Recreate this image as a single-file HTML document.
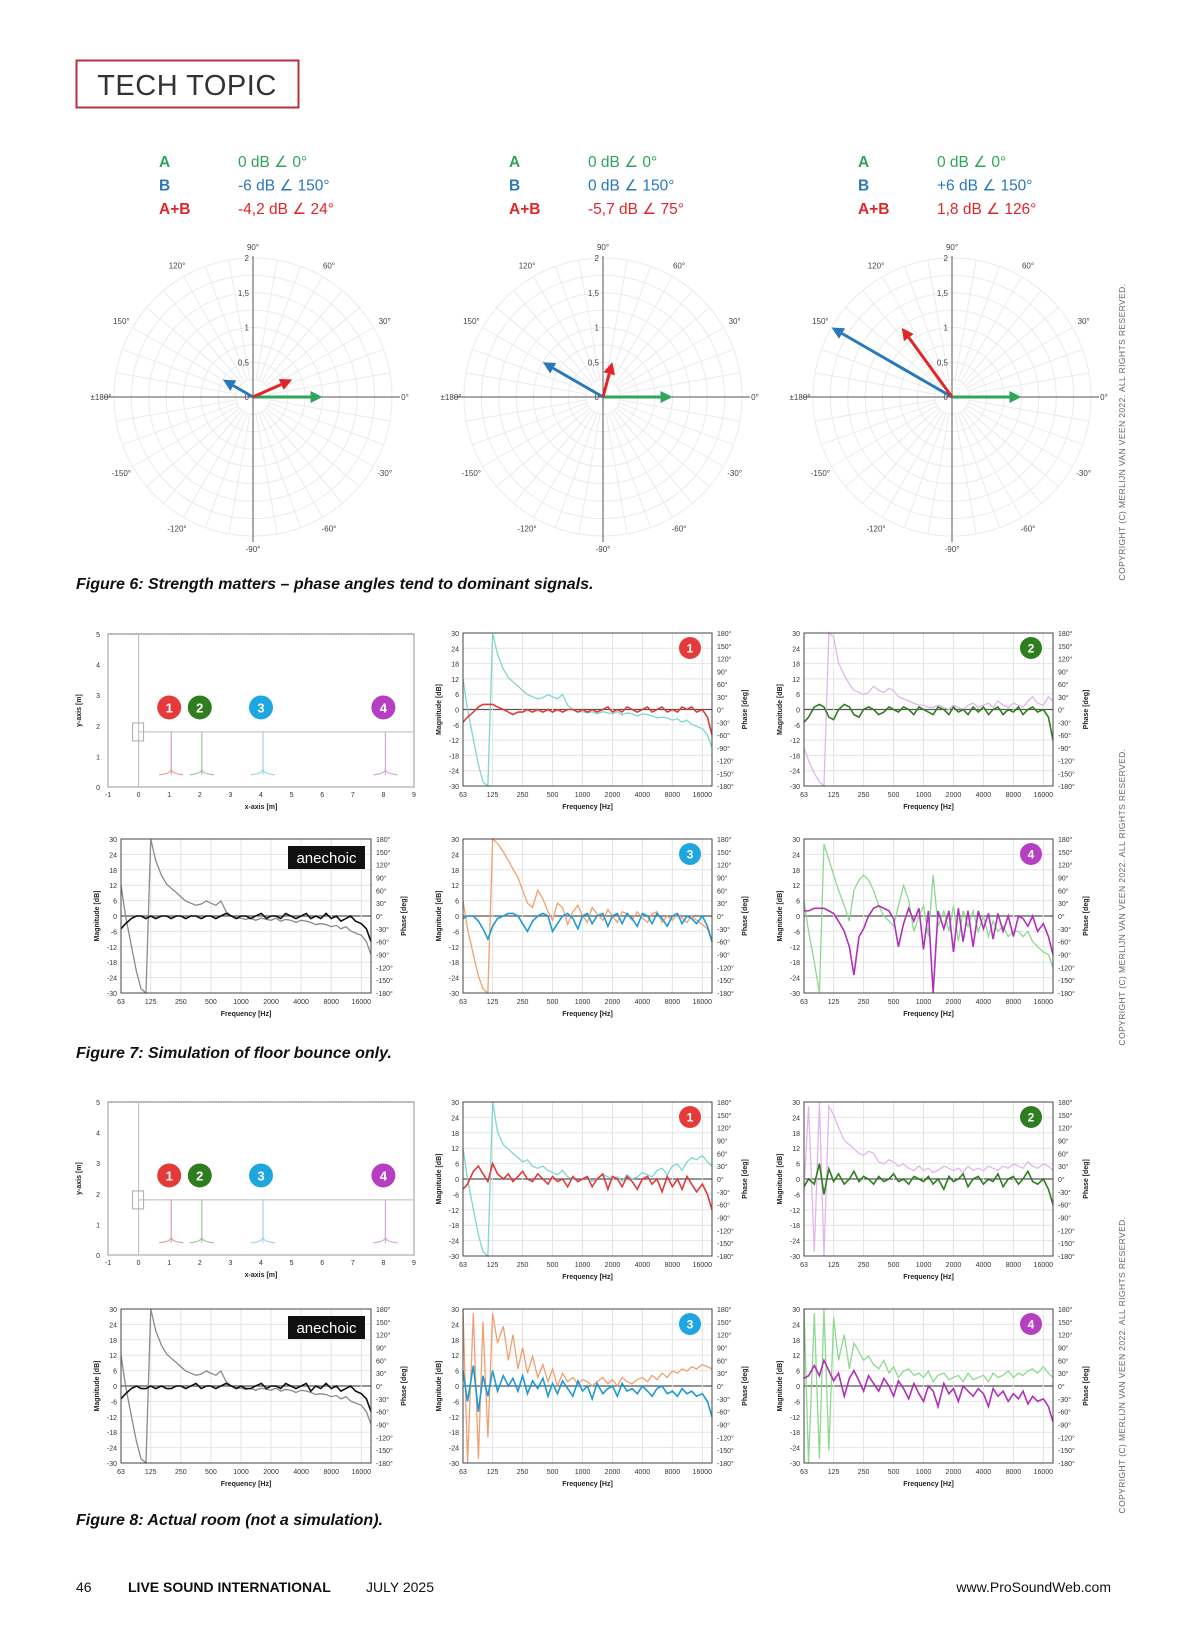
<!DOCTYPE html>
<html><head><meta charset="utf-8"><title>Tech Topic</title>
<style>
html,body{margin:0;padding:0;background:#fff;}
svg{display:block;font-family:"Liberation Sans",sans-serif;}
</style></head>
<body>
<svg id="page" width="1200" height="1638" viewBox="0 0 1200 1638" xmlns="http://www.w3.org/2000/svg">
<rect x="0" y="0" width="1200" height="1638" fill="#fff"/>
<g>
<rect x="76.5" y="60.5" width="222" height="47" fill="none" stroke="#b9303a" stroke-width="2"/>
<text x="187" y="95" text-anchor="middle" font-size="29" fill="#333" letter-spacing="0.5">TECH TOPIC</text>
</g>
<text x="76" y="589" font-size="16" font-weight="bold" font-style="italic" fill="#111">Figure 6: Strength matters – phase angles tend to dominant signals.</text>
<text x="76" y="1058" font-size="16" font-weight="bold" font-style="italic" fill="#111">Figure 7: Simulation of floor bounce only.</text>
<text x="76" y="1525" font-size="16" font-weight="bold" font-style="italic" fill="#111">Figure 8: Actual room (not a simulation).</text>
<g font-size="14" fill="#111">
<text x="76" y="1592">46</text>
<text x="128" y="1592" font-weight="bold">LIVE SOUND INTERNATIONAL</text>
<text x="366" y="1592">JULY  2025</text>
<text x="1111" y="1592" text-anchor="end">www.ProSoundWeb.com</text>
</g>
<g font-size="8.5" fill="#666" letter-spacing="0.4">
<text transform="translate(1125,432) rotate(-90)" text-anchor="middle">COPYRIGHT (C) MERLIJN VAN VEEN 2022. ALL RIGHTS RESERVED.</text>
<text transform="translate(1125,897) rotate(-90)" text-anchor="middle">COPYRIGHT (C) MERLIJN VAN VEEN 2022. ALL RIGHTS RESERVED.</text>
<text transform="translate(1125,1365) rotate(-90)" text-anchor="middle">COPYRIGHT (C) MERLIJN VAN VEEN 2022. ALL RIGHTS RESERVED.</text>
</g>
<g id="charts"></g>
</svg>
<script>
// ---------- Polar (Figure 6) data ----------
const POLAR_A_MAG=[1,1,1];
const POLAR_A_ANG=[0,0,0];
const POLAR_B_MAG=[0.5,1,2];
const POLAR_B_ANG=[150,150,150];
const POLAR_SUM_MAG=[0.617,0.519,1.23];
const POLAR_SUM_ANG=[24,75,126];
const LEGEND_A=["0 dB ∠ 0°","0 dB ∠ 0°","0 dB ∠ 0°"];
const LEGEND_B=["-6 dB ∠ 150°","0 dB ∠ 150°","+6 dB ∠ 150°"];
const LEGEND_SUM=["-4,2 dB ∠ 24°","-5,7 dB ∠ 75°","1,8 dB ∠ 126°"];
const POLAR_ANGLE_TICKS=[90,60,30,0,-30,-60,-90,-120,-150,180,150,120];
const POLAR_RADIAL_TICKS=["0","0,5","1","1,5","2"];

// ---------- Frequency-response data ----------
const FREQ=[63,70,80,90,100,112,125,140,160,180,200,225,250,280,315,355,400,450,500,560,630,710,800,900,1000,1120,1250,1400,1600,1800,2000,2240,2500,2800,3150,3550,4000,4500,5000,5600,6300,7100,8000,9000,10000,11200,12500,14000,16000,18000,20000];
const FREQ_TICKS=[63,125,250,500,1000,2000,4000,8000,16000];
const DB_TICKS=[30,24,18,12,6,0,-6,-12,-18,-24,-30];
const PHASE_TICKS=["180°","150°","120°","90°","60°","30°","0°","-30°","-60°","-90°","-120°","-150°","-180°"];

const F7_ANE_MAG=[-5,-3,-1,0,0,-1,0,-1,0,0,-1,0,0,-1,0,0,-1,0,0,-1,0,1,0,-1,0,0,-1,0,1,-1,0,0,-1,1,0,-1,0,1,-1,0,-1,1,-1,0,-2,-1,0,-2,-3,-5,-10];
const F7_ANE_PH=[72,0,-70,-130,-170,-180,180,130,95,75,65,55,45,35,30,25,28,35,30,25,35,10,0,-5,-5,-8,-5,-10,-5,-8,-10,-5,-12,-8,-10,-15,-10,-12,-15,-20,-18,-20,-25,-22,-30,-25,-35,-40,-45,-60,-90];
const F7_1_MAG=[-5,-3,-1,1,2,2,2,1,0,-1,-2,-1,-1,0,-1,0,-1,0,-1,0,-1,0,0,-1,0,-1,0,-1,0,1,-1,0,-1,1,0,-1,0,1,-1,0,1,-1,0,-1,1,0,1,-1,0,-3,-10];
const F7_1_PH=[72,0,-70,-130,-170,-180,180,130,95,75,65,55,45,35,30,25,28,35,30,25,35,10,0,-5,-5,-8,-5,-10,-5,-8,-10,-5,-12,-8,-10,-15,-10,-12,-15,-20,-18,-20,-25,-22,-30,-25,-35,-40,-45,-60,-90];
const F7_2_MAG=[-5,-3,1,2,1,-3,-4,0,2,1,-2,-3,0,1,0,-2,-1,1,0,-1,1,0,-2,1,0,-1,-2,1,0,-2,1,-1,0,-2,1,-1,1,-2,0,1,-2,0,-1,1,-2,0,1,-1,0,-3,-12];
const F7_2_PH=[-90,-120,-150,-170,-180,180,170,110,80,60,45,40,35,40,55,45,40,50,45,30,25,20,15,10,10,5,5,10,5,0,10,5,0,10,15,5,10,15,5,20,10,5,15,10,5,20,30,15,10,30,20];
const F7_3_MAG=[-1,0,0,-2,-5,-9,-4,-1,0,1,1,0,-3,-6,-2,0,1,0,-6,-3,0,1,-1,-5,0,1,-3,0,1,-4,0,1,-3,1,-1,-4,1,0,-3,1,-1,-4,0,1,-3,0,-1,-3,0,-4,-10];
const F7_3_PH=[36,-30,-90,-140,-170,-180,180,170,150,130,110,90,60,30,20,60,40,10,-10,30,20,-20,10,25,0,-15,20,5,-10,15,0,-15,10,5,-10,10,-5,-15,5,10,-15,0,-10,5,-5,-15,0,-10,-20,-30,-60];
const F7_4_MAG=[2,2,3,3,3,2,1,-2,-6,-12,-23,-8,-5,0,3,4,3,2,-1,-12,-3,3,-2,3,-13,2,-30,2,-5,2,-14,3,-10,2,-12,2,-5,1,-9,1,-6,0,-8,0,-1,-4,0,-6,-3,-8,-15];
const F7_4_PH=[36,-36,-108,-180,168,132,96,60,24,-12,60,84,96,84,60,24,0,-12,-24,24,72,36,-36,0,24,-48,96,-24,12,-36,24,-60,12,-24,12,-36,0,-48,-12,-36,-24,-48,-36,-36,-48,-36,-60,-72,-84,-90,-120];

const F8_ANE_MAG=[-5,-3,-1,0,-1,-1,0,-1,0,-1,-1,0,0,-1,0,1,-1,0,0,-1,0,1,0,-1,0,-1,-1,0,1,-1,0,0,-1,1,0,-1,0,1,-2,0,-1,1,-1,0,-2,-1,0,-2,-3,-5,-10];
const F8_ANE_PH=[72,0,-70,-130,-170,-180,180,130,95,75,65,55,45,35,30,25,28,35,30,25,35,10,0,-5,-5,-8,-5,-10,-5,-8,-10,-5,-12,-8,-10,-15,-10,-12,-15,-20,-18,-20,-25,-22,-30,-25,-35,-40,-45,-60,-90];
const F8_1_MAG=[-4,-2,3,5,2,-1,6,2,0,2,-1,1,3,0,-1,2,0,-2,1,-1,0,-3,1,-1,0,1,-3,0,2,-4,1,0,-3,1,-1,-4,0,1,-2,0,-5,1,-3,0,-4,1,-2,-5,-2,-6,-12];
const F8_1_PH=[72,0,-70,-130,-170,-180,180,110,80,70,60,50,40,45,30,25,30,20,15,10,20,5,0,-5,0,5,-5,0,10,5,0,5,-5,10,0,5,15,10,5,20,25,10,30,35,20,40,50,45,55,40,30];
const F8_2_MAG=[-3,0,-2,6,-6,4,-1,2,-2,0,3,-1,1,0,-2,1,-1,0,2,-1,0,-2,1,0,-1,1,-2,0,-4,1,-1,0,2,-3,0,1,-2,0,-1,2,-3,0,1,-2,0,3,-1,-2,0,-4,-10];
const F8_2_PH=[-30,170,-170,180,-180,170,150,120,90,80,70,60,55,65,60,40,35,45,40,30,35,25,20,30,20,25,15,20,30,25,20,25,15,30,20,25,20,30,25,20,30,25,35,30,25,40,30,25,35,30,20];
const F8_3_MAG=[6,-6,8,-10,4,-4,6,-2,4,0,3,-2,4,-3,2,-1,3,-4,1,-3,2,-1,-4,2,-2,0,-5,1,-3,-1,0,-4,1,-2,-1,-3,0,-2,-4,-1,0,-3,-2,-4,-1,-3,-2,-4,-3,-6,-12];
const F8_3_PH=[180,-180,170,-170,150,-120,170,100,140,60,120,40,90,30,70,20,50,10,40,0,30,10,20,5,15,10,0,10,20,5,15,0,20,10,5,15,20,10,25,15,30,20,35,30,40,35,45,40,50,45,40];
const F8_4_MAG=[3,4,8,4,10,6,2,5,-4,3,6,2,-2,4,1,-2,3,0,-4,2,-1,-5,1,-3,-6,0,-2,-8,1,-3,-1,-6,0,-2,-4,-1,-3,-8,-1,-4,-2,-6,-3,-5,-2,-7,-4,-6,-5,-8,-14];
const F8_4_PH=[180,-180,170,-170,180,-150,160,60,120,40,100,80,60,70,50,40,60,30,45,20,35,40,25,30,20,35,10,25,30,15,20,25,10,30,15,20,25,10,30,20,25,35,20,30,25,35,40,30,45,30,20];

// ---------- Position chart data ----------
const MIC_X=[1,2,4,8];
const MIC_LABELS=["1","2","3","4"];
const SPEAKER_HEIGHT=1.8;
const MIC_BOTTOM=0.4;
const BADGE_Y=2.6;
const POS_X_TICKS=[-1,0,1,2,3,4,5,6,7,8,9];
const POS_Y_TICKS=[0,1,2,3,4,5];

const NS="http://www.w3.org/2000/svg";
const root=document.getElementById('charts');
function mk(tag,attrs,parent,txt){const e=document.createElementNS(NS,tag);for(const k in attrs)e.setAttribute(k,attrs[k]);if(txt!==undefined)e.textContent=txt;(parent||root).appendChild(e);return e;}

const GREEN="#2ea55a",BLUE="#2a78b8",RED="#e0262a";
const MIC_COLORS=["#e53a3a","#2e7d1e","#1ea6e0","#b53fc0"];
const MIC_LINE=["#e0a0a0","#9ec79a","#9bd6ee","#d8a7de"];

// ---------- Polar charts ----------
function polar(i,cx,cy){
  const g=mk('g',{});
  
  
  const R=139, unit=R/2;
  for(let k=1;k<=8;k++){const c=mk('circle',{cx:cx,cy:cy,r:k*R/8,fill:'none',stroke:'#ebebeb','stroke-width':1},g);
    }
  for(let a=0;a<360;a+=10){const t=a*Math.PI/180;const l=mk('line',{x1:cx+(R/8)*Math.cos(t),y1:cy-(R/8)*Math.sin(t),x2:cx+R*Math.cos(t),y2:cy-R*Math.sin(t),stroke:'#ebebeb','stroke-width':1},g);
    }
  mk('line',{x1:cx-R-10,y1:cy,x2:cx+R+8,y2:cy,stroke:'#555','stroke-width':1},g);
  mk('line',{x1:cx,y1:cy-R-2,x2:cx,y2:cy+R+6,stroke:'#555','stroke-width':1},g);
  POLAR_RADIAL_TICKS.forEach((t,k)=>{const tx=mk('text',{x:cx-4,y:cy-k*unit/2+3,'font-size':8,'text-anchor':'end',fill:'#444'},g,t);
    });
  POLAR_ANGLE_TICKS.forEach(a=>{const t=a*Math.PI/180;let r=152;let lx=cx+r*Math.cos(t),ly=cy-r*Math.sin(t)+3;
    let lab=(a===180?'±180°':a+'°');if(a===90)ly=cy-R-8;if(a===-90)ly=cy+R+16;
    const tx=mk('text',{x:lx,y:ly,'font-size':8,'text-anchor':'middle',fill:'#444'},g,lab);
    });
  function arrow(m,a,col,name){const t=a*Math.PI/180;const ex=cx+m*unit*Math.cos(t),ey=cy-m*unit*Math.sin(t);
    const hl=12,hw=6;const bx=ex-hl*Math.cos(t),by=ey+hl*Math.sin(t);
    const px=Math.sin(t)*hw,py=Math.cos(t)*hw;
    const ag=mk('g',{},g);
    mk('line',{x1:cx,y1:cy,x2:bx,y2:by,stroke:col,'stroke-width':3},ag);
    mk('polygon',{points:`${ex},${ey} ${bx+px},${by+py} ${bx-px},${by-py}`,fill:col},ag);}
  arrow(POLAR_A_MAG[i],POLAR_A_ANG[i],GREEN,'vector-a');
  arrow(POLAR_B_MAG[i],POLAR_B_ANG[i],BLUE,'vector-b');
  arrow(POLAR_SUM_MAG[i],POLAR_SUM_ANG[i],RED,'vector-a-plus-b');
  const lg=mk('g',{'font-size':15.5},g);
  const rows=[["A",LEGEND_A[i],GREEN],["B",LEGEND_B[i],BLUE],["A+B",LEGEND_SUM[i],RED]];
  rows.forEach((r,k)=>{const y=167+k*23.5;
    const a=mk('text',{x:cx-94,y:y,fill:r[2],'font-weight':'bold'},lg,r[0]);
    const b=mk('text',{x:cx-15,y:y,fill:r[2]},lg,r[1]);});
}
polar(0,253,397);polar(1,603,397);polar(2,952,397);

// ---------- Frequency charts ----------
function freqChart(name,x0,y0,x1,y1,mag,magCol,ph,phCol,badge,badgeCol){
  const g=mk('g',{});
  const L=Math.log2(20000/63);
  const xs=f=>x0+Math.log2(f/63)/L*(x1-x0);
  const ys=d=>y0+(30-Math.max(-30,Math.min(30,d)))/60*(y1-y0);
  DB_TICKS.forEach(d=>{mk('line',{x1:x0,y1:ys(d),x2:x1,y2:ys(d),stroke:d===0?'#555':'#e4e4e4','stroke-width':d===0?1.2:1},g);
    const t=mk('text',{x:x0-4,y:ys(d)+3,'font-size':7,'text-anchor':'end',fill:'#333'},g,String(d));});
  PHASE_TICKS.forEach((p,k)=>{const t=mk('text',{x:x1+5,y:y0+k*(y1-y0)/12+3,'font-size':7,fill:'#333'},g,p);});
  FREQ_TICKS.forEach(f=>{mk('line',{x1:xs(f),y1:y0,x2:xs(f),y2:y1,stroke:'#e4e4e4','stroke-width':1},g);
    const t=mk('text',{x:xs(f),y:y1+11,'font-size':7,'text-anchor':'middle',fill:'#333'},g,String(f));});
  const pp=mk('polyline',{points:FREQ.map((f,k)=>xs(f)+','+ys(ph[k]/6)).join(' '),fill:'none',stroke:phCol,'stroke-width':1.3},g);
  
  const mp=mk('polyline',{points:FREQ.map((f,k)=>xs(f)+','+ys(mag[k])).join(' '),fill:'none',stroke:magCol,'stroke-width':1.6},g);
  
  mk('rect',{x:x0,y:y0,width:x1-x0,height:y1-y0,fill:'none',stroke:'#444','stroke-width':1},g);
  const at=mk('text',{transform:`translate(${x0-22},${(y0+y1)/2}) rotate(-90)`,'font-size':7,'font-weight':'bold','text-anchor':'middle',fill:'#222'},g,'Magnitude [dB]');
  
  const pt=mk('text',{transform:`translate(${x1+35},${(y0+y1)/2}) rotate(-90)`,'font-size':7,'font-weight':'bold','text-anchor':'middle',fill:'#222'},g,'Phase [deg]');
  
  const ft=mk('text',{x:(x0+x1)/2,y:y1+23,'font-size':7,'font-weight':'bold','text-anchor':'middle',fill:'#222'},g,'Frequency [Hz]');
  
  if(badge){const bg=mk('g',{},g);
    mk('circle',{cx:x1-22,cy:y0+15,r:11,fill:badgeCol},bg);
    mk('text',{x:x1-22,y:y0+19.5,'font-size':12,'font-weight':'bold','text-anchor':'middle',fill:'#fff'},bg,badge);}
  else{const bg=mk('g',{},g);
    mk('rect',{x:x1-83,y:y0+7,width:77,height:23,fill:'#111'},bg);
    mk('text',{x:x1-44.5,y:y0+24,'font-size':15,'text-anchor':'middle',fill:'#fff'},bg,'anechoic');}
}

// ---------- Position charts ----------
function posChart(name,x0,y0,x1,y1){
  const g=mk('g',{});
  const xs=v=>x0+(v+1)/10*(x1-x0), ys=v=>y1-v/5*(y1-y0);
  mk('rect',{x:x0,y:y0,width:x1-x0,height:y1-y0,fill:'#fff',stroke:'#999','stroke-width':1},g);
  mk('line',{x1:x0,y1:y0,x2:x1,y2:y0,stroke:'#999','stroke-width':1.5,'stroke-dasharray':'1.5 1'},g);
  mk('line',{x1:xs(0),y1:y0,x2:xs(0),y2:y1,stroke:'#bbb','stroke-width':1},g);
  mk('line',{x1:xs(0),y1:ys(SPEAKER_HEIGHT),x2:x1,y2:ys(SPEAKER_HEIGHT),stroke:'#bbb','stroke-width':1},g);
  const sp=mk('rect',{x:xs(0)-6,y:ys(SPEAKER_HEIGHT)-9,width:11,height:18,fill:'none',stroke:'#aaa','stroke-width':1},g);
  
  POS_X_TICKS.forEach(v=>{const t=mk('text',{x:xs(v),y:y1+10,'font-size':7,'text-anchor':'middle',fill:'#333'},g,String(v));});
  POS_Y_TICKS.forEach(v=>{const t=mk('text',{x:x0-8,y:ys(v)+3,'font-size':7,'text-anchor':'end',fill:'#333'},g,String(v));});
  const xt=mk('text',{x:(x0+x1)/2,y:y1+22,'font-size':7,'font-weight':'bold','text-anchor':'middle',fill:'#222'},g,'x-axis [m]');
  const yt=mk('text',{transform:`translate(${x0-27},${(y0+y1)/2}) rotate(-90)`,'font-size':7,'font-weight':'bold','text-anchor':'middle',fill:'#222'},g,'y-axis [m]');
  MIC_X.forEach((m,k)=>{const mg=mk('g',{},g);
    const x=xs(m)+2;
    mk('line',{x1:x,y1:ys(SPEAKER_HEIGHT),x2:x,y2:ys(MIC_BOTTOM),stroke:MIC_LINE[k],'stroke-width':1.2},mg);
    mk('path',{d:`M${x-12},${ys(MIC_BOTTOM)} Q${x},${ys(MIC_BOTTOM)-1} ${x},${ys(MIC_BOTTOM)-6} Q${x},${ys(MIC_BOTTOM)-1} ${x+12},${ys(MIC_BOTTOM)}`,fill:'none',stroke:MIC_LINE[k],'stroke-width':1.2},mg);
    mk('circle',{cx:xs(m),cy:ys(BADGE_Y),r:12,fill:MIC_COLORS[k]},mg);
    mk('text',{x:xs(m),y:ys(BADGE_Y)+5,'font-size':13,'font-weight':'bold','text-anchor':'middle',fill:'#fff'},mg,MIC_LABELS[k]);});
}

const C1=[121,371],C2=[463,712],C3=[804,1053];
const LIGHT={cyan:"#7fd6cf",violet:"#e3b5ee",gray:"#8a8a8a",orange:"#f0a070",lgreen:"#8fd88f"};
// Figure 7
posChart('fig7-position-chart',108,634,414,787);
freqChart('fig7-position-1-response',C2[0],633,C2[1],786,F7_1_MAG,"#e03a3a",F7_1_PH,LIGHT.cyan,"1",MIC_COLORS[0]);
freqChart('fig7-position-2-response',C3[0],633,C3[1],786,F7_2_MAG,"#2e7d1e",F7_2_PH,LIGHT.violet,"2",MIC_COLORS[1]);
freqChart('fig7-anechoic-response',C1[0],839,C1[1],993,F7_ANE_MAG,"#111",F7_ANE_PH,LIGHT.gray,null,null);
freqChart('fig7-position-3-response',C2[0],839,C2[1],993,F7_3_MAG,"#1e9ad6",F7_3_PH,LIGHT.orange,"3",MIC_COLORS[2]);
freqChart('fig7-position-4-response',C3[0],839,C3[1],993,F7_4_MAG,"#b030b8",F7_4_PH,LIGHT.lgreen,"4",MIC_COLORS[3]);
// Figure 8
posChart('fig8-position-chart',108,1102,414,1255);
freqChart('fig8-position-1-response',C2[0],1102,C2[1],1256,F8_1_MAG,"#e03a3a",F8_1_PH,LIGHT.cyan,"1",MIC_COLORS[0]);
freqChart('fig8-position-2-response',C3[0],1102,C3[1],1256,F8_2_MAG,"#2e7d1e",F8_2_PH,LIGHT.violet,"2",MIC_COLORS[1]);
freqChart('fig8-anechoic-response',C1[0],1309,C1[1],1463,F8_ANE_MAG,"#111",F8_ANE_PH,LIGHT.gray,null,null);
freqChart('fig8-position-3-response',C2[0],1309,C2[1],1463,F8_3_MAG,"#1e9ad6",F8_3_PH,LIGHT.orange,"3",MIC_COLORS[2]);
freqChart('fig8-position-4-response',C3[0],1309,C3[1],1463,F8_4_MAG,"#b030b8",F8_4_PH,LIGHT.lgreen,"4",MIC_COLORS[3]);
</script>
</body></html>
